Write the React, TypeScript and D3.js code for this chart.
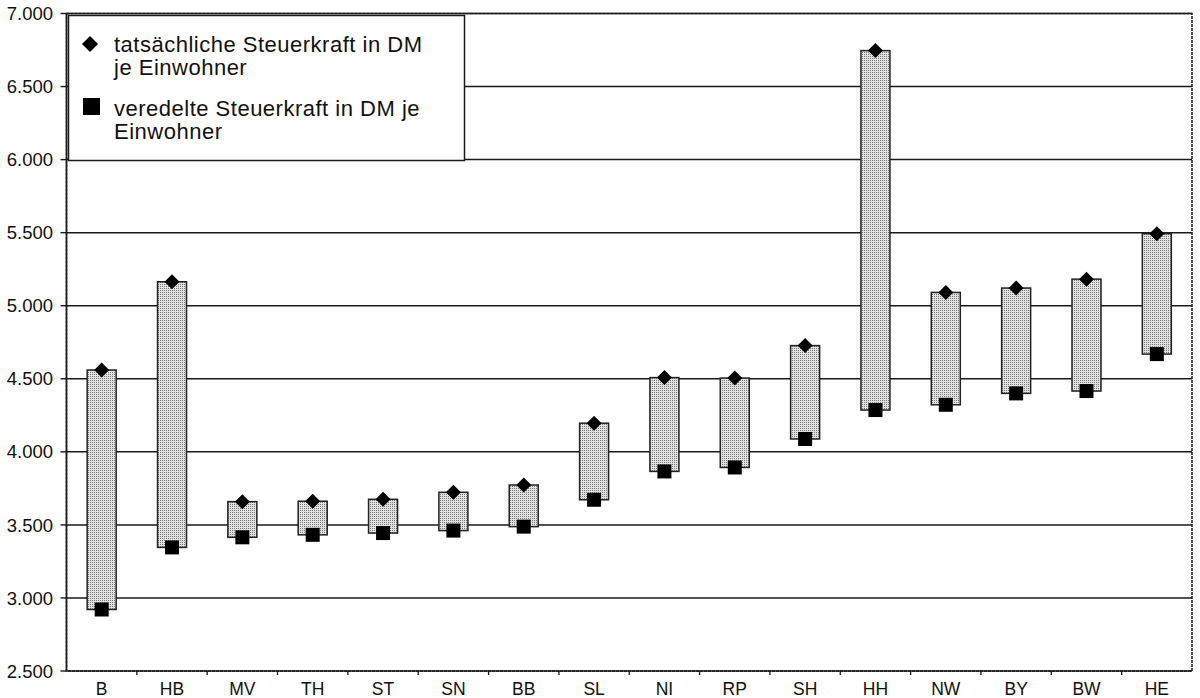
import React from "react";
import * as d3 from "d3";

const categories = ["B", "HB", "MV", "TH", "ST", "SN", "BB", "SL", "NI", "RP", "SH", "HH", "NW", "BY", "BW", "HE"];
const actualTax = [4560, 5164, 3659, 3662, 3675, 3723, 3773, 4196, 4508, 4505, 4727, 6746, 5091, 5121, 5182, 5493];
const refinedTax = [2921, 3346, 3415, 3432, 3444, 3461, 3488, 3672, 3866, 3893, 4088, 4286, 4322, 4400, 4416, 4669];
const yTicks = [2500, 3000, 3500, 4000, 4500, 5000, 5500, 6000, 6500, 7000];
const legendActual = ["tatsächliche Steuerkraft in DM", "je Einwohner"];
const legendRefined = ["veredelte Steuerkraft in DM je", "Einwohner"];

const W = 1200;
const H = 698;
const left = 66.5;
const right = 1192;
const top = 13.5;
const bottom = 671;
const FONT = "'Liberation Sans', Arial, Helvetica, sans-serif";
const INK = "#1a1a1a";

const fmt = (v: number) => d3.format(",.3f")(v / 1000).replace(",", "");

export default function App() {
  const x = d3.scaleBand<string>().domain(categories).range([left, right]).padding(0);
  const y = d3.scaleLinear().domain([2500, 7000]).range([bottom, top]);
  const barW = 29;
  const dHalf = 7.5;
  const sq = 14;

  return (
    <svg width={W} height={H} style={{ position: "absolute", left: 0, top: 0, background: "#fff" }} fontFamily={FONT}>
      <defs>
        <pattern id="stip" width="2" height="2" patternUnits="userSpaceOnUse">
          <rect width="2" height="2" fill="#e2e2e2" />
          <rect width="1" height="1" fill="#777" />
        </pattern>
      </defs>
      <rect width={W} height={H} fill="#fff" />
      {yTicks.map((t) => (
        <line key={"g" + t} x1={left} x2={right} y1={y(t)} y2={y(t)} stroke={INK} strokeWidth={1.5} />
      ))}
      <rect x={left} y={top} width={right - left} height={bottom - top} fill="none" stroke={INK} strokeWidth={1.5} strokeDasharray="3 1" />
      <line x1={left} x2={left} y1={top} y2={bottom} stroke={INK} strokeWidth={1.6} />
      {yTicks.map((t) => (
        <g key={"yt" + t}>
          <line x1={left - 6} x2={left} y1={y(t)} y2={y(t)} stroke={INK} strokeWidth={1.4} />
          <text x={53} y={y(t)} dy="0.36em" textAnchor="end" fontSize={18.5} fill="#111">
            {fmt(t)}
          </text>
        </g>
      ))}
      {categories.map((c, i) => (
        <g key={"xt" + c}>
          {i > 0 && <line x1={x(c)!} x2={x(c)!} y1={bottom} y2={bottom + 4} stroke={INK} strokeWidth={1.3} />}
          <text x={x(c)! + x.bandwidth() / 2} y={694.5} textAnchor="middle" fontSize={17.5} fill="#111">
            {c}
          </text>
        </g>
      ))}
      {categories.map((c, i) => {
        const cx = x(c)! + x.bandwidth() / 2;
        const y1 = y(actualTax[i]);
        const y2 = y(refinedTax[i]);
        return (
          <rect key={"b" + c} x={cx - barW / 2} y={y1} width={barW} height={y2 - y1} fill="url(#stip)" stroke="#222" strokeWidth={1.5} />
        );
      })}
      {categories.map((c, i) => {
        const cx = x(c)! + x.bandwidth() / 2;
        const y1 = y(actualTax[i]);
        const y2 = y(refinedTax[i]);
        return (
          <g key={"m" + c}>
            <path d={`M${cx},${y1 - dHalf} L${cx + dHalf},${y1} L${cx},${y1 + dHalf} L${cx - dHalf},${y1} Z`} fill="#000" />
            <rect x={cx - sq / 2} y={y2 - sq / 2} width={sq} height={sq} fill="#000" />
          </g>
        );
      })}
      <g>
        <rect x={68.5} y={15.5} width={396} height={145} fill="#fff" stroke={INK} strokeWidth={1.5} />
        <path d="M90,36 L98,44 L90,52 L82,44 Z" fill="#000" />
        <rect x={83} y={98} width={17} height={17} fill="#000" />
        {legendActual.map((s, k) => (
          <text key={"la" + k} x={114} y={52 + k * 23} fontSize={22} letterSpacing={0.5} fill="#111">
            {s}
          </text>
        ))}
        {legendRefined.map((s, k) => (
          <text key={"lr" + k} x={114} y={115.5 + k * 23} fontSize={22} letterSpacing={0.5} fill="#111">
            {s}
          </text>
        ))}
      </g>
    </svg>
  );
}
